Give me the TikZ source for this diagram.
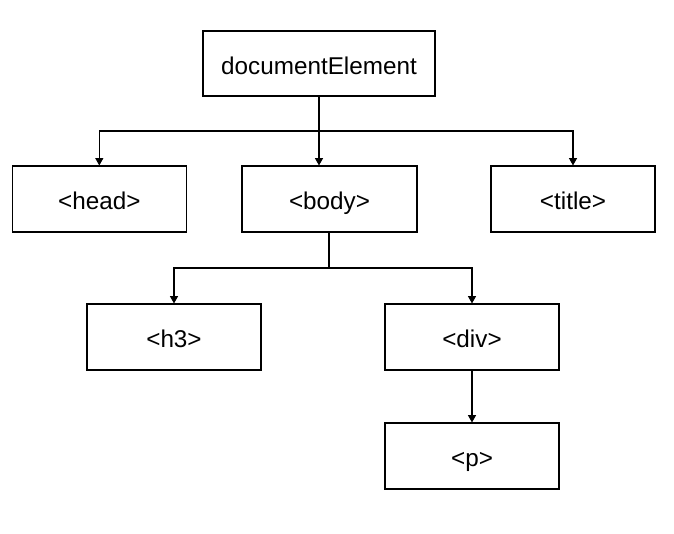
\documentclass[tikz,border=0pt]{standalone}
\usepackage{fontspec}
\setmainfont{Liberation Sans}
\usetikzlibrary{arrows.meta}
\begin{document}
\begin{tikzpicture}[x=0.75pt,y=-0.75pt,
  box/.style={draw=black,line width=0.8pt,rectangle,inner sep=0pt,minimum height=66*0.75pt,
    text height=16pt,text depth=0pt,
    font=\fontsize{18.2}{21}\selectfont},
  conn/.style={draw=black,line width=0.8pt},
  arr/.style={conn,-{Triangle[length=5.5pt,width=6pt]}}]
\fill[white] (0,0) rectangle (674,534);
\useasboundingbox (0,0) rectangle (674,534);
\node[box,minimum width=232*0.75pt,minimum height=65*0.75pt] (doc) at (319,63.5) {documentElement};
\node[box,minimum width=173.5*0.75pt] (head) at (99.3,199) {<head>};
\node[box,minimum width=175*0.75pt] (body) at (329.5,199) {<body>};
\node[box,minimum width=164*0.75pt] (title) at (573,199) {<title>};
\node[box,minimum width=174*0.75pt] (h3) at (174,337) {<h3>};
\node[box,minimum width=174*0.75pt] (div) at (472,337) {<div>};
\node[box,minimum width=174*0.75pt] (p) at (472,456) {<p>};
\coordinate (j1) at (319,131);
\coordinate (j2) at (329,268);
\draw[conn] (doc.south) -- (j1);
\draw[arr] (j1) -| (head.north);
\draw[arr] (j1) -- (j1 |- body.north);
\draw[arr] (j1) -| (title.north);
\draw[conn] (j2 |- body.south) -- (j2);
\draw[arr] (j2) -| (h3.north);
\draw[arr] (j2) -| (div.north);
\draw[arr] (div.south) -- (p.north);
\end{tikzpicture}
\end{document}
